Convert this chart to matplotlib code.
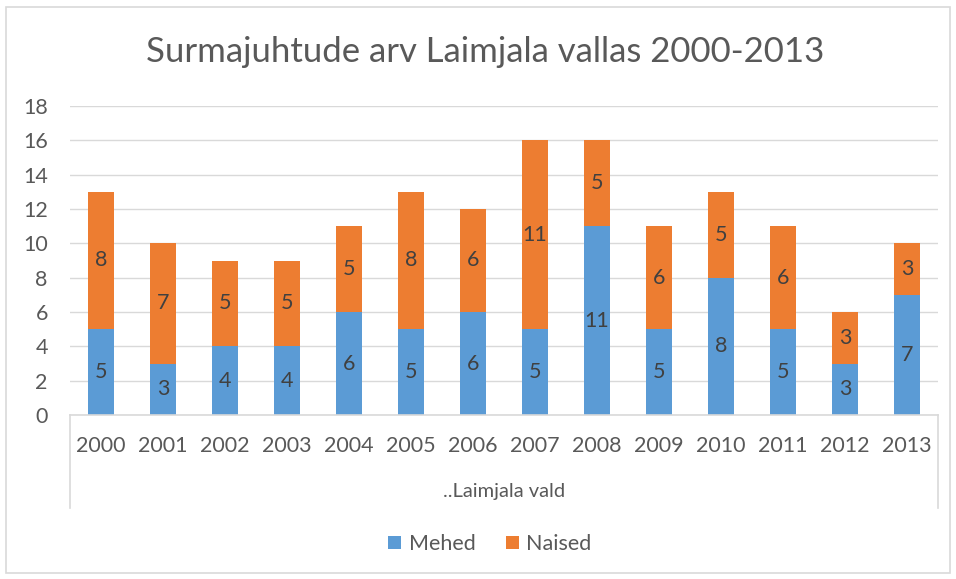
import matplotlib.pyplot as plt
from matplotlib.patches import Rectangle

years = ['2000', '2001', '2002', '2003', '2004', '2005', '2006',
         '2007', '2008', '2009', '2010', '2011', '2012', '2013']
mehed = [5, 3, 4, 4, 6, 5, 6, 5, 11, 5, 8, 5, 3, 7]
naised = [8, 7, 5, 5, 5, 8, 6, 11, 5, 6, 5, 6, 3, 3]
group_label = '..Laimjala vald'
title = 'Surmajuhtude arv Laimjala vallas 2000-2013'

blue = '#5B9BD5'
orange = '#ED7D31'
text_c = '#595959'
grid_c = '#D9D9D9'

plt.rcParams['font.family'] = ['Lato', 'DejaVu Sans']

fig = plt.figure(figsize=(9.56, 5.79), dpi=100)
W, H = 956, 579
ax = fig.add_axes([70 / W, 1 - 415 / H, 868 / W, 309 / H])
unit = 309 / 18  # px per y unit

x = list(range(len(years)))
b1 = ax.bar(x, mehed, width=0.43, color=blue, zorder=2)
b2 = ax.bar(x, naised, width=0.43, bottom=mehed, color=orange, zorder=2)
ax.bar_label(b1, label_type='center', color='#404040', fontsize=15.5)
ax.bar_label(b2, label_type='center', color='#404040', fontsize=15.5)

ax.set_xlim(-0.5, len(years) - 0.5)
ax.set_ylim(0, 18)
ax.set_yticks(range(0, 19, 2))
ax.yaxis.grid(True, color=grid_c, linewidth=1, zorder=0)
ax.tick_params(axis='y', length=0, labelsize=15.5, labelcolor=text_c, pad=16)
ax.set_xticks([])
for s in ax.spines.values():
    s.set_visible(False)

# multi-level category axis
yb = -(508 - 415) / unit
ax.plot([-0.5, len(years) - 0.5], [0, 0], color=grid_c, lw=1.2, clip_on=False, zorder=3)
ax.plot([-0.5, -0.5], [0, yb], color=grid_c, lw=1.2, clip_on=False)
ax.plot([len(years) - 0.5, len(years) - 0.5], [0, yb], color=grid_c, lw=1.2, clip_on=False)
for i, yr in enumerate(years):
    ax.text(i, -(446 - 415) / unit, yr, ha='center', va='center',
            fontsize=15.5, color=text_c)
ax.text((len(years) - 1) / 2, -(492 - 415) / unit, group_label,
        ha='center', va='center', fontsize=14.5, color=text_c)

fig.text(485 / W, 1 - 52 / H, title, ha='center', va='center',
         fontsize=25, color=text_c)

leg = fig.legend([b1, b2], ['Mehed', 'Naised'], loc='center',
                 bbox_to_anchor=(490 / W, 1 - 544 / H), ncol=2, frameon=False,
                 fontsize=15.5, labelcolor=text_c, handlelength=0.6,
                 handleheight=0.6, handletextpad=0.35, columnspacing=1.4)

fig.patches.append(Rectangle((6 / W, 1 - 573 / H), 944 / W, 566 / H,
                             transform=fig.transFigure, fill=False,
                             edgecolor=grid_c, lw=1.2))

fig.savefig('out.png', dpi=100)
